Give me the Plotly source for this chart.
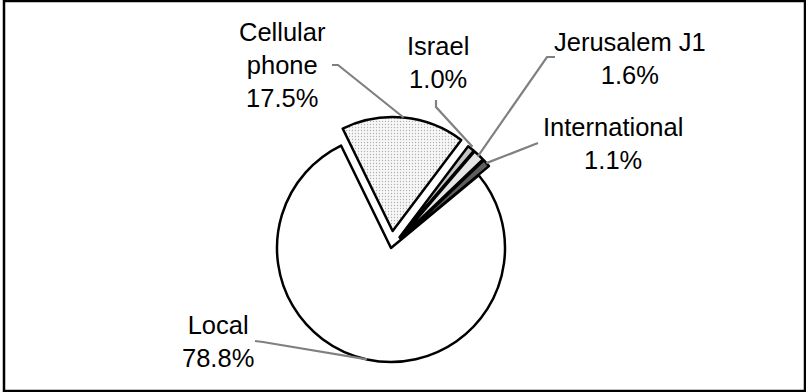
import math
import plotly.graph_objects as go

# ---- data ----
categories = ["Cellular phone", "Israel", "Jerusalem J1", "International", "Local"]
label_texts = ["Cellular<br>phone", "Israel", "Jerusalem J1", "International", "Local"]
values = [17.5, 1.0, 1.6, 1.1, 78.8]

# ---- style ----
W, H = 806, 392
colors = ["#f2f2f2", "#c4c4c4", "#e6e6e6", "#5e5e5e", "#ffffff"]
pattern_shapes = [".", "", "", "", ""]
pulls = [0.15, 0.12, 0.12, 0.12, 0.0]
rotation = -26
R = 114.0                      # desired radius in px
CX, CY = 391.0, 248.0          # desired centre in px

box = 2 * R * (1 + max(pulls))
dom_x = [(CX - box / 2) / W, (CX + box / 2) / W]
dom_y = [1 - (CY + box / 2) / H, 1 - (CY - box / 2) / H]

def px(x):
    return x / W

def py(y):
    return 1 - y / H

fig = go.Figure(go.Pie(
    labels=categories,
    values=values,
    sort=False,
    direction="clockwise",
    rotation=rotation,
    pull=pulls,
    textinfo="none",
    hoverinfo="label+percent",
    domain=dict(x=dom_x, y=dom_y),
    marker=dict(
        colors=colors,
        line=dict(color="#000000", width=2.5),
        pattern=dict(shape=pattern_shapes, fgcolor="#b0b0b0", bgcolor="#f7f7f7",
                     size=3, solidity=0.15),
    ),
    showlegend=False,
))

# label positions (centre of text block, px) and label-side leader points
label_pos = [(282, 65), (438, 63), (630, 58), (613, 143), (218, 341)]
leader_start = [
    [(332, 65), (338, 65)],
    [(436, 100), (436, 107)],
    [(555, 57), (547, 57)],
    [(538, 143)],
    [(255, 341), (263, 342)],
]
radial_factor = [1.0, 1.02, 0.985, 1.0, 1.0]

total = sum(values)
cum = 0.0
shapes = []
annotations = []
for i, v in enumerate(values):
    a0 = rotation + 360 * cum / total
    a1 = rotation + 360 * (cum + v) / total
    cum += v
    mid = math.radians((a0 + a1) / 2)
    dist = R * (pulls[i] + radial_factor[i])
    ex = CX + dist * math.sin(mid)
    ey = CY - dist * math.cos(mid)
    pts = leader_start[i] + [(ex, ey)]
    path = "M " + " L ".join(f"{px(x):.5f},{py(y):.5f}" for x, y in pts)
    shapes.append(dict(type="path", path=path, xref="paper", yref="paper",
                       line=dict(color="#808080", width=2.2)))
    pct = 100 * v / total
    annotations.append(dict(
        x=px(label_pos[i][0]), y=py(label_pos[i][1]), xref="paper", yref="paper",
        text=f"{label_texts[i]}<br>{pct:.1f}%", showarrow=False,
        xanchor="center", yanchor="middle", align="center",
        font=dict(family="Liberation Sans, Arial, sans-serif", size=25.5, color="#000000"),
    ))

# chart frame
shapes.append(dict(type="rect", xref="paper", yref="paper",
                   x0=px(4), x1=px(805), y0=py(391), y1=py(1),
                   line=dict(color="#000000", width=2.5)))

fig.update_layout(
    width=W, height=H,
    margin=dict(l=0, r=0, t=0, b=0),
    paper_bgcolor="#ffffff",
    plot_bgcolor="#ffffff",
    shapes=shapes,
    annotations=annotations,
)

fig.write_html(
    "out.html",
    config={"displayModeBar": False},
    post_script="document.body.style.margin='0px';document.body.style.overflow='hidden';",
)
